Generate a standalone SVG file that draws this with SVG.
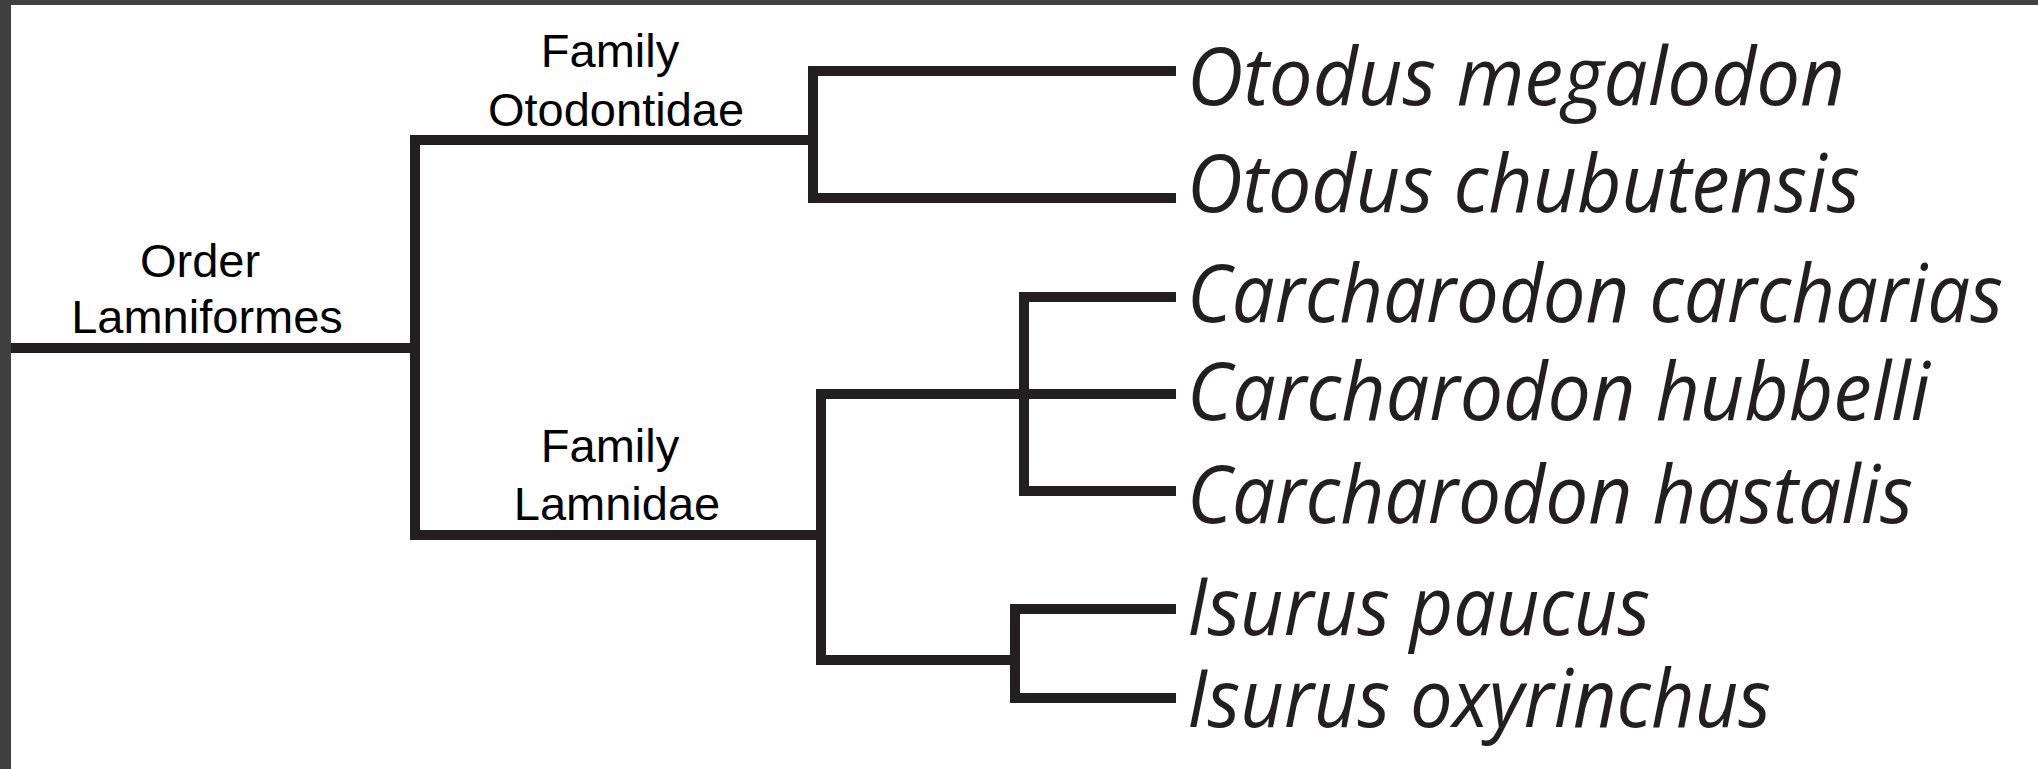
<svg xmlns="http://www.w3.org/2000/svg" width="2038" height="769" viewBox="0 0 2038 769">
<style>
.br{fill:none;stroke:#231f20;stroke-width:10;stroke-linejoin:miter;stroke-linecap:butt}
.lab{font-family:"Liberation Sans",Arial,sans-serif;font-size:47px;fill:#000;text-anchor:middle}
.sp{font-family:"Open Sans","Noto Sans",sans-serif;font-style:italic;font-size:80px;fill:#231f20}
</style>
<rect x="0" y="0" width="2038" height="769" fill="#fff"/>
<g id="connectors">
<path class="br" d="M0,348 H415"/>
<path class="br" d="M813,140 H415 V535 H821"/>
<path class="br" d="M1176,71 H813 V198 H1176"/>
<path class="br" d="M1176,394 H821 V660 H1015"/>
<path class="br" d="M1176,297 H1024 V491 H1176"/>
<path class="br" d="M1176,609 H1015 V698 H1176"/>
</g>
<g id="order"><text class="lab" x="200" y="277">Order</text><text class="lab" x="207" y="333">Lamniformes</text></g>
<g id="otodontidae"><text class="lab" x="610" y="67">Family</text><text class="lab" x="616" y="126">Otodontidae</text></g>
<g id="lamnidae"><text class="lab" x="610" y="462">Family</text><text class="lab" x="617" y="520">Lamnidae</text></g>
<g id="megalodon"><text class="sp" x="1187" y="105" textLength="658" lengthAdjust="spacingAndGlyphs">Otodus megalodon</text></g>
<g id="chubutensis"><text class="sp" x="1187" y="212" textLength="673" lengthAdjust="spacingAndGlyphs">Otodus chubutensis</text></g>
<g id="carcharias"><text class="sp" x="1187" y="322" textLength="816" lengthAdjust="spacingAndGlyphs">Carcharodon carcharias</text></g>
<g id="hubbelli"><text class="sp" x="1187" y="420" textLength="743" lengthAdjust="spacingAndGlyphs">Carcharodon hubbelli</text></g>
<g id="hastalis"><text class="sp" x="1187" y="523" textLength="726" lengthAdjust="spacingAndGlyphs">Carcharodon hastalis</text></g>
<g id="paucus"><text class="sp" x="1187" y="635" textLength="463" lengthAdjust="spacingAndGlyphs">Isurus paucus</text></g>
<g id="oxyrinchus"><text class="sp" x="1187" y="727" textLength="584" lengthAdjust="spacingAndGlyphs">Isurus oxyrinchus</text></g>
<rect x="0" y="0" width="2038" height="5" fill="#404040"/>
<rect x="0" y="0" width="11" height="769" fill="#404040"/>
</svg>
